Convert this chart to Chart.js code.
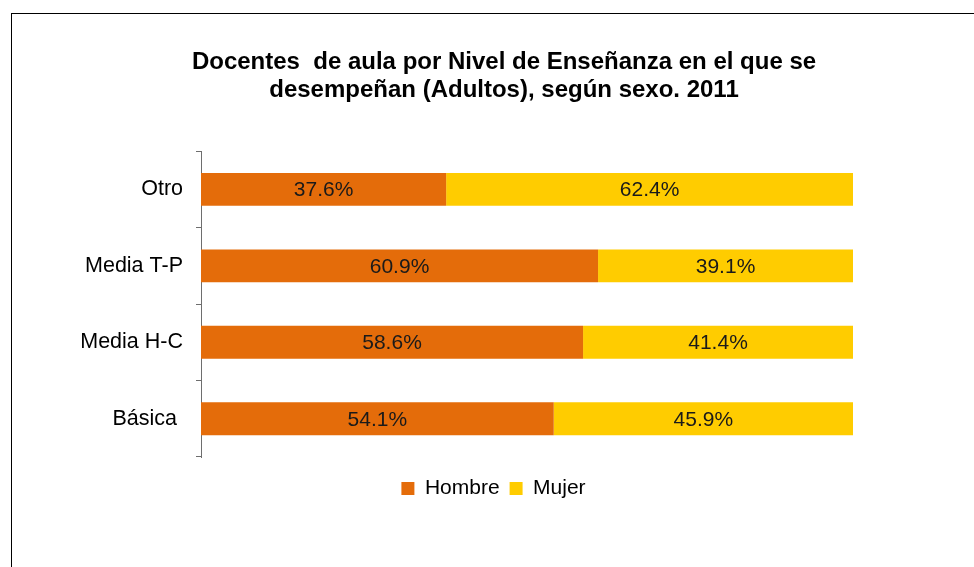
<!DOCTYPE html>
<html>
<head>
<meta charset="utf-8">
<script src="https://cdn.jsdelivr.net/npm/chart.js@4/dist/chart.umd.min.js"></script>
<style>
  html, body { margin: 0; padding: 0; background: #fff; }
  #wrap { width: 974px; height: 567px; position: relative; }
</style>
</head>
<body>
<div id="wrap"><canvas id="chart"></canvas></div>
<script>
// categories in sheet order (bottom to top on the chart)
const categories = ['Básica ', 'Media H-C', 'Media T-P', 'Otro'];
const hombre = [54.1, 58.6, 60.9, 37.6];
const mujer = [45.9, 41.4, 39.1, 62.4];
const seriesNames = ['Hombre', 'Mujer'];
const titleLines = ['Docentes  de aula por Nivel de Enseñanza en el que se', 'desempeñan (Adultos), según sexo. 2011'];

const FONT = 'Arial, "Liberation Sans", sans-serif';

// value labels centred in each bar segment
const barLabels = {
  id: 'barLabels',
  afterDatasetsDraw(chart) {
    const ctx = chart.ctx;
    ctx.save();
    ctx.font = '21px ' + FONT;
    ctx.fillStyle = '#1a1a1a';
    ctx.textAlign = 'center';
    ctx.textBaseline = 'middle';
    chart.data.datasets.forEach((ds, i) => {
      chart.getDatasetMeta(i).data.forEach((bar, j) => {
        const x = (bar.x + bar.base) / 2;
        ctx.fillText(ds.data[j].toFixed(1) + '%', x, bar.y + 1);
      });
    });
    ctx.restore();
  }
};

// outer frame + put title / legend where the original has them
const frame = {
  id: 'frame',
  afterLayout(chart) {
    const t = chart.titleBlock;
    t.left = 34; t.right = 974;
    const lg = chart.legend;
    lg.left = 12; lg.right = 975;
    lg.top += 11; lg.bottom += 11;
  },
  beforeDraw(chart) {
    const ctx = chart.ctx;
    ctx.save();
    ctx.fillStyle = '#fff';
    ctx.fillRect(0, 0, chart.width, chart.height);
    ctx.strokeStyle = '#000';
    ctx.lineWidth = 1;
    ctx.strokeRect(11.5, 13.5, 1000, 1000);
    ctx.restore();
  }
};

new Chart(document.getElementById('chart'), {
  type: 'bar',
  data: {
    labels: categories,
    datasets: [
      { label: seriesNames[0], data: hombre, backgroundColor: '#E46C0A' },
      { label: seriesNames[1], data: mujer, backgroundColor: '#FFCC00' }
    ]
  },
  options: {
    indexAxis: 'y',
    responsive: true,
    maintainAspectRatio: false,
    animation: false,
    barPercentage: 0.43,
    categoryPercentage: 1,
    layout: { padding: { left: 34, right: 121, top: 0, bottom: 69 } },
    plugins: {
      title: {
        display: true,
        text: titleLines,
        color: '#000',
        font: { family: FONT, size: 24, weight: 'bold', lineHeight: 1.17 },
        padding: { top: 48, bottom: 47 }
      },
      legend: {
        position: 'bottom',
        labels: {
          color: '#000',
          font: { family: FONT, size: 21 },
          boxWidth: 13,
          boxHeight: 13,
          padding: 10
        }
      },
      tooltip: { enabled: false }
    },
    scales: {
      x: {
        stacked: true,
        min: 0,
        max: 100,
        display: false
      },
      y: {
        stacked: true,
        reverse: true,
        afterFit(s) { s.width = 167; },
        border: { color: '#6e6e6e', width: 1 },
        grid: { drawOnChartArea: false, color: '#6e6e6e', tickLength: 5 },
        ticks: { color: '#000', font: { family: FONT, size: 21.5 }, padding: 13 }
      }
    }
  },
  plugins: [barLabels, frame]
});
</script>
</body>
</html>
